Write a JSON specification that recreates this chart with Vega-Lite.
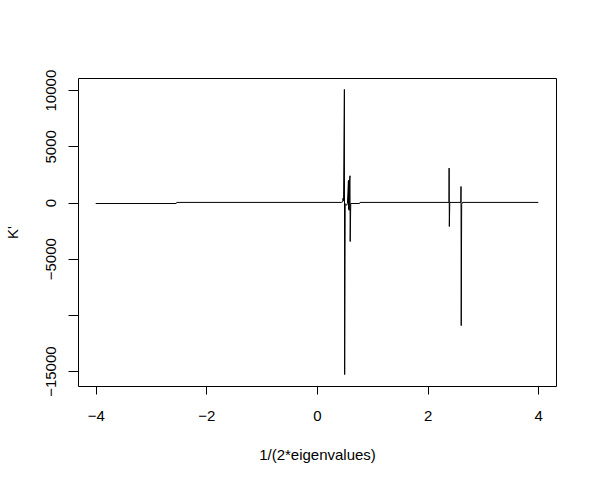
{
  "$schema": "https://vega.github.io/schema/vega-lite/v6.json",
  "width": 478,
  "height": 308,
  "autosize": {"type": "none"},
  "padding": {"left": 78, "top": 78, "right": 41, "bottom": 98},
  "background": "white",
  "config": {
    "view": {"stroke": "black", "strokeWidth": 1},
    "font": "Liberation Sans",
    "axis": {
      "grid": false,
      "domain": false,
      "tickColor": "black",
      "tickWidth": 1,
      "tickSize": 8,
      "labelColor": "black",
      "labelFont": "Liberation Sans",
      "labelFontSize": 15,
      "titleFont": "Liberation Sans",
      "titleFontSize": 15,
      "titleFontWeight": "normal",
      "titleColor": "black"
    }
  },
  "data": {
    "values": [
      {"i": 1, "x": -4, "y": -90},
      {"i": 2, "x": -2.545, "y": -90},
      {"i": 3, "x": -2.535, "y": 10},
      {"i": 4, "x": 0.44, "y": 10},
      {"i": 5, "x": 0.465, "y": 60},
      {"i": 6, "x": 0.47, "y": 380},
      {"i": 7, "x": 0.48, "y": 150},
      {"i": 8, "x": 0.495, "y": 10064},
      {"i": 9, "x": 0.5, "y": -15310},
      {"i": 10, "x": 0.51, "y": -100},
      {"i": 11, "x": 0.535, "y": -250},
      {"i": 12, "x": 0.55, "y": -80},
      {"i": 13, "x": 0.568, "y": 1900},
      {"i": 14, "x": 0.572, "y": -600},
      {"i": 15, "x": 0.577, "y": 2000},
      {"i": 16, "x": 0.581, "y": -700},
      {"i": 17, "x": 0.586, "y": 1800},
      {"i": 18, "x": 0.596, "y": 2380},
      {"i": 19, "x": 0.6, "y": -3470},
      {"i": 20, "x": 0.61, "y": -90},
      {"i": 21, "x": 0.77, "y": -90},
      {"i": 22, "x": 0.778, "y": 10},
      {"i": 23, "x": 2.385, "y": 10},
      {"i": 24, "x": 2.388, "y": 3064},
      {"i": 25, "x": 2.392, "y": -2138},
      {"i": 26, "x": 2.4, "y": 10},
      {"i": 27, "x": 2.6, "y": 10},
      {"i": 28, "x": 2.603, "y": 1425},
      {"i": 29, "x": 2.607, "y": -10955},
      {"i": 30, "x": 2.615, "y": -150},
      {"i": 31, "x": 2.63, "y": 10},
      {"i": 32, "x": 4, "y": 10}
    ]
  },
  "mark": {"type": "line", "color": "black", "strokeWidth": 1, "interpolate": "linear"},
  "encoding": {
    "order": {"field": "i", "type": "quantitative"},
    "x": {
      "field": "x",
      "type": "quantitative",
      "scale": {"domain": [-4.32, 4.32], "nice": false, "zero": false},
      "axis": {
        "values": [-4, -2, 0, 2, 4],
        "title": "1/(2*eigenvalues)",
        "labelPadding": 26,
        "labelBaseline": "alphabetic",
        "titleBaseline": "alphabetic",
        "titleY": 73,
        "titleX": 239
      }
    },
    "y": {
      "field": "y",
      "type": "quantitative",
      "scale": {"domain": [-16325, 11079], "nice": false, "zero": false},
      "axis": {
        "values": [-15000, -10000, -5000, 0, 5000, 10000],
        "format": "d",
        "labelExpr": "datum.value == -10000 ? '' : datum.label",
        "labelAngle": 270,
        "labelAlign": "center",
        "labelBaseline": "alphabetic",
        "labelPadding": 13,
        "tickSize": 10,
        "title": "K'",
        "titleAngle": 270,
        "titleAlign": "center",
        "titleBaseline": "alphabetic",
        "titleX": -61,
        "titleY": 154
      }
    }
  }
}
